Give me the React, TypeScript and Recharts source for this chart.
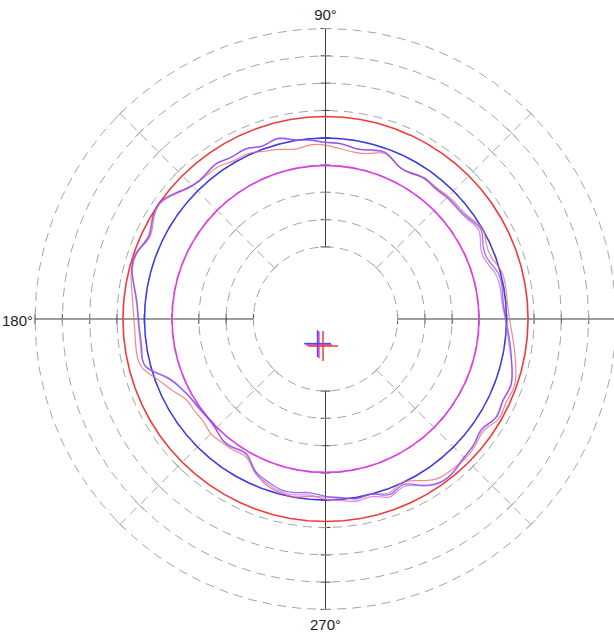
import React from 'react';
import { ScatterChart, Scatter, XAxis, YAxis, ReferenceLine, ReferenceDot } from 'recharts';

// Sampling angles of the roundness traces (degrees, counter-clockwise from 0°)
const ANGLES = [
  0, 5, 10, 15, 20, 25, 30, 35, 40, 45, 50, 55, 60, 65, 70, 75, 80, 85,
  90, 95, 100, 105, 110, 115, 120, 125, 130, 135, 140, 145, 150, 155, 160, 165, 170, 175,
  180, 185, 190, 195, 200, 205, 210, 215, 220, 225, 230, 235, 240, 245, 250, 255, 260, 265,
  270, 275, 280, 285, 290, 295, 300, 305, 310, 315, 320, 325, 330, 335, 340, 345, 350, 355,
];

// Measured profile deviation per angle, three passes
const TRACE_BLUE = [
  39.7, 39.0, 39.3, 39.0, 37.0, 37.3, 39.3, 37.7, 36.8, 36.7, 36.2, 36.6, 35.5, 35.9, 38.4, 37.7, 37.0, 38.1,
  38.4, 39.5, 40.3, 42.1, 41.0, 42.5, 42.1, 43.2, 42.3, 42.6, 45.4, 47.9, 46.8, 45.0, 46.8, 47.0, 44.8, 42.9,
  42.1, 41.7, 41.9, 41.7, 35.9, 32.6, 30.9, 30.2, 29.8, 30.4, 31.8, 31.3, 30.9, 34.8, 36.7, 38.2, 38.2, 37.5,
  38.6, 39.3, 40.4, 39.9, 42.1, 40.6, 43.9, 46.7, 46.7, 45.4, 44.7, 43.6, 45.8, 45.2, 45.8, 44.3, 42.6, 41.0,
];
const TRACE_MAGENTA = [
  39.5, 38.6, 38.6, 38.0, 36.0, 36.3, 38.5, 37.2, 36.5, 36.4, 36.0, 36.4, 35.3, 35.8, 38.1, 37.6, 37.1, 38.0,
  38.2, 39.3, 40.2, 41.8, 41.1, 42.3, 42.2, 43.0, 42.4, 42.8, 45.2, 47.6, 46.9, 45.3, 46.6, 46.8, 45.0, 43.1,
  42.3, 42.0, 42.2, 41.4, 35.5, 32.4, 31.0, 30.5, 30.1, 30.6, 31.9, 31.6, 31.3, 35.4, 37.4, 38.9, 39.0, 38.4,
  39.6, 40.3, 41.3, 40.9, 42.9, 41.3, 44.2, 46.8, 46.5, 45.3, 44.8, 43.9, 45.6, 45.0, 45.6, 44.4, 42.3, 40.6,
];
const TRACE_RED = [
  41.0, 40.5, 40.6, 40.4, 38.6, 38.6, 40.0, 38.3, 37.4, 37.2, 36.6, 36.8, 35.6, 35.8, 38.0, 36.4, 35.6, 36.2,
  37.3, 37.6, 36.8, 37.9, 39.0, 40.5, 40.6, 41.8, 41.9, 42.5, 45.0, 47.5, 46.3, 44.6, 46.5, 47.1, 45.8, 44.5,
  43.8, 43.6, 43.9, 43.0, 38.8, 35.5, 32.6, 32.2, 32.0, 33.0, 32.6, 32.3, 31.9, 34.9, 38.0, 39.3, 39.8, 38.8,
  38.8, 39.4, 40.3, 40.0, 41.4, 39.8, 42.0, 45.0, 45.6, 45.9, 45.4, 44.6, 46.8, 46.5, 47.0, 45.8, 44.0, 42.3,
];

// Least-squares circle radii (deviation units)
const FIT_RED = 47.8;
const FIT_BLUE = 39.9;
const FIT_MAGENTA = 29.8;

// Fitted centre offsets (x, y) in deviation units
const CENTER_BLUE = [-2.9, -9.0];
const CENTER_MAGENTA = [-2.4, -9.5];
const CENTER_RED = [-0.9, -9.9];

// Grid rings and axes
const RING_VALUES = [0, 10, 20, 30, 40, 50, 60, 70, 80];
const MAIN_AXES = [0, 90, 180, 270];
const DIAGONAL_AXES = [45, 135, 225, 315];
const AXIS_LABELS = ['90°', '180°', '270°'];
const AXIS_LABEL_ANGLES = [90, 180, 270];

// Plot geometry (deviation units)
const ZERO_RADIUS = 26.4;
const X_DOMAIN: [number, number] = [-119.23, 105.68];
const Y_DOMAIN: [number, number] = [-115.02, 116.85];
const TICK_HALF = 1.8;
const DIAG_TICK_HALF = 2.3;
const CROSS_HALF = 4.9;

const RAD = Math.PI / 180;
const toXY = (angle: number, dev: number) => {
  const r = ZERO_RADIUS + dev;
  return { x: r * Math.cos(angle * RAD), y: r * Math.sin(angle * RAD) };
};

const closedTrace = (values: number[]) => {
  const pts = ANGLES.map((a, i) => toXY(a, values[i]));
  return [...pts, pts[0], pts[1]];
};
const closedCircle = (dev: number) => {
  const pts = ANGLES.map((a) => toXY(a, dev));
  return [...pts, pts[0]];
};

const noDot = () => <g />;

const GRID = '#a4a4a4';
const AXIS = '#3c3c3c';

const tickSegment = (angle: number, value: number, half: number) => {
  const c = toXY(angle, value);
  const px = -Math.sin(angle * RAD) * half;
  const py = Math.cos(angle * RAD) * half;
  return [
    { x: c.x - px, y: c.y - py },
    { x: c.x + px, y: c.y + py },
  ];
};

const labelShape = (text: string, angle: number) => (p: any) => {
  const cx = p.cx;
  const cy = p.cy;
  const common = {
    fontSize: 15,
    fontFamily: '"Liberation Sans", Arial, Helvetica, sans-serif',
    fill: '#1e1e1e',
  };
  if (angle === 90) {
    return <text x={cx} y={cy - 8.5} textAnchor="middle" {...common}>{text}</text>;
  }
  if (angle === 270) {
    return <text x={cx} y={cy + 21} textAnchor="middle" {...common}>{text}</text>;
  }
  return <text x={cx - 2} y={cy + 7.5} textAnchor="end" {...common}>{text}</text>;
};

const crossSegments = (center: number[], half: number) => [
  [
    { x: center[0] - half, y: center[1] },
    { x: center[0] + half, y: center[1] },
  ],
  [
    { x: center[0], y: center[1] - half },
    { x: center[0], y: center[1] + half },
  ],
];

export default function App() {
  const lastRing = RING_VALUES[RING_VALUES.length - 1];
  const firstRing = RING_VALUES[0];

  return (
    <div style={{ position: 'absolute', left: 0, top: 0, width: 614, height: 633, background: '#fff' }}>
      <ScatterChart width={614} height={633} margin={{ top: 0, right: 0, bottom: 0, left: 0 }}>
        <XAxis type="number" dataKey="x" domain={X_DOMAIN} allowDataOverflow hide />
        <YAxis type="number" dataKey="y" domain={Y_DOMAIN} allowDataOverflow hide />

        {/* dashed grid rings */}
        {RING_VALUES.map((v) => (
          <Scatter
            key={`ring-${v}`}
            data={closedCircle(v)}
            line={{ stroke: GRID, strokeWidth: 1, strokeDasharray: '9 6' }}
            shape={noDot}
            isAnimationActive={false}
            legendType="none"
          />
        ))}

        {/* dashed diagonal axes */}
        {DIAGONAL_AXES.map((a) => (
          <ReferenceLine
            key={`diag-${a}`}
            segment={[toXY(a, firstRing), toXY(a, lastRing)]}
            stroke={GRID}
            strokeDasharray="9 6"
            ifOverflow="visible"
          />
        ))}
        {DIAGONAL_AXES.flatMap((a) =>
          RING_VALUES.map((v) => (
            <ReferenceLine
              key={`dtick-${a}-${v}`}
              segment={tickSegment(a, v, DIAG_TICK_HALF)}
              stroke={GRID}
              ifOverflow="visible"
            />
          ))
        )}

        {/* fitted circles */}
        <Scatter data={closedCircle(FIT_RED)} line={{ stroke: '#ee3b3b', strokeWidth: 1.6 }} shape={noDot} isAnimationActive={false} />
        <Scatter data={closedCircle(FIT_BLUE)} line={{ stroke: '#3a3ae6', strokeWidth: 1.5 }} shape={noDot} isAnimationActive={false} />
        <Scatter data={closedCircle(FIT_MAGENTA)} line={{ stroke: '#e03ce6', strokeWidth: 1.6 }} shape={noDot} isAnimationActive={false} />

        {/* measured profiles */}
        <Scatter data={closedTrace(TRACE_RED)} lineJointType="natural" line={{ stroke: '#f06a6a', strokeWidth: 1.2, strokeOpacity: 0.8 }} shape={noDot} isAnimationActive={false} />
        <Scatter data={closedTrace(TRACE_MAGENTA)} lineJointType="natural" line={{ stroke: '#dc6aec', strokeWidth: 1.3, strokeOpacity: 0.8 }} shape={noDot} isAnimationActive={false} />
        <Scatter data={closedTrace(TRACE_BLUE)} lineJointType="natural" line={{ stroke: '#6a46ee', strokeWidth: 1.3, strokeOpacity: 0.75 }} shape={noDot} isAnimationActive={false} />

        {/* solid main axes with ticks */}
        {MAIN_AXES.map((a) => (
          <ReferenceLine
            key={`axis-${a}`}
            segment={[toXY(a, firstRing), toXY(a, lastRing)]}
            stroke={AXIS}
            strokeWidth={1}
            ifOverflow="visible"
          />
        ))}
        {MAIN_AXES.flatMap((a) =>
          RING_VALUES.map((v) => (
            <ReferenceLine
              key={`tick-${a}-${v}`}
              segment={tickSegment(a, v, TICK_HALF)}
              stroke={AXIS}
              strokeWidth={1}
              ifOverflow="visible"
            />
          ))
        )}

        {/* fitted centre marks */}
        {crossSegments(CENTER_MAGENTA, CROSS_HALF).map((s, i) => (
          <ReferenceLine key={`cm-${i}`} segment={s} stroke="#e03ce6" strokeWidth={1.5} ifOverflow="visible" />
        ))}
        {crossSegments(CENTER_BLUE, CROSS_HALF).map((s, i) => (
          <ReferenceLine key={`cb-${i}`} segment={s} stroke="#4a4af0" strokeWidth={1.5} ifOverflow="visible" />
        ))}
        {crossSegments(CENTER_RED, CROSS_HALF + 0.6).map((s, i) => (
          <ReferenceLine key={`cr-${i}`} segment={s} stroke="#ee3b3b" strokeWidth={1.5} ifOverflow="visible" />
        ))}

        {/* angle labels */}
        {AXIS_LABEL_ANGLES.map((a, i) => {
          const p = toXY(a, lastRing);
          return (
            <ReferenceDot
              key={`lbl-${a}`}
              x={p.x}
              y={p.y}
              r={0}
              ifOverflow="visible"
              shape={labelShape(AXIS_LABELS[i], a)}
            />
          );
        })}
      </ScatterChart>
    </div>
  );
}
